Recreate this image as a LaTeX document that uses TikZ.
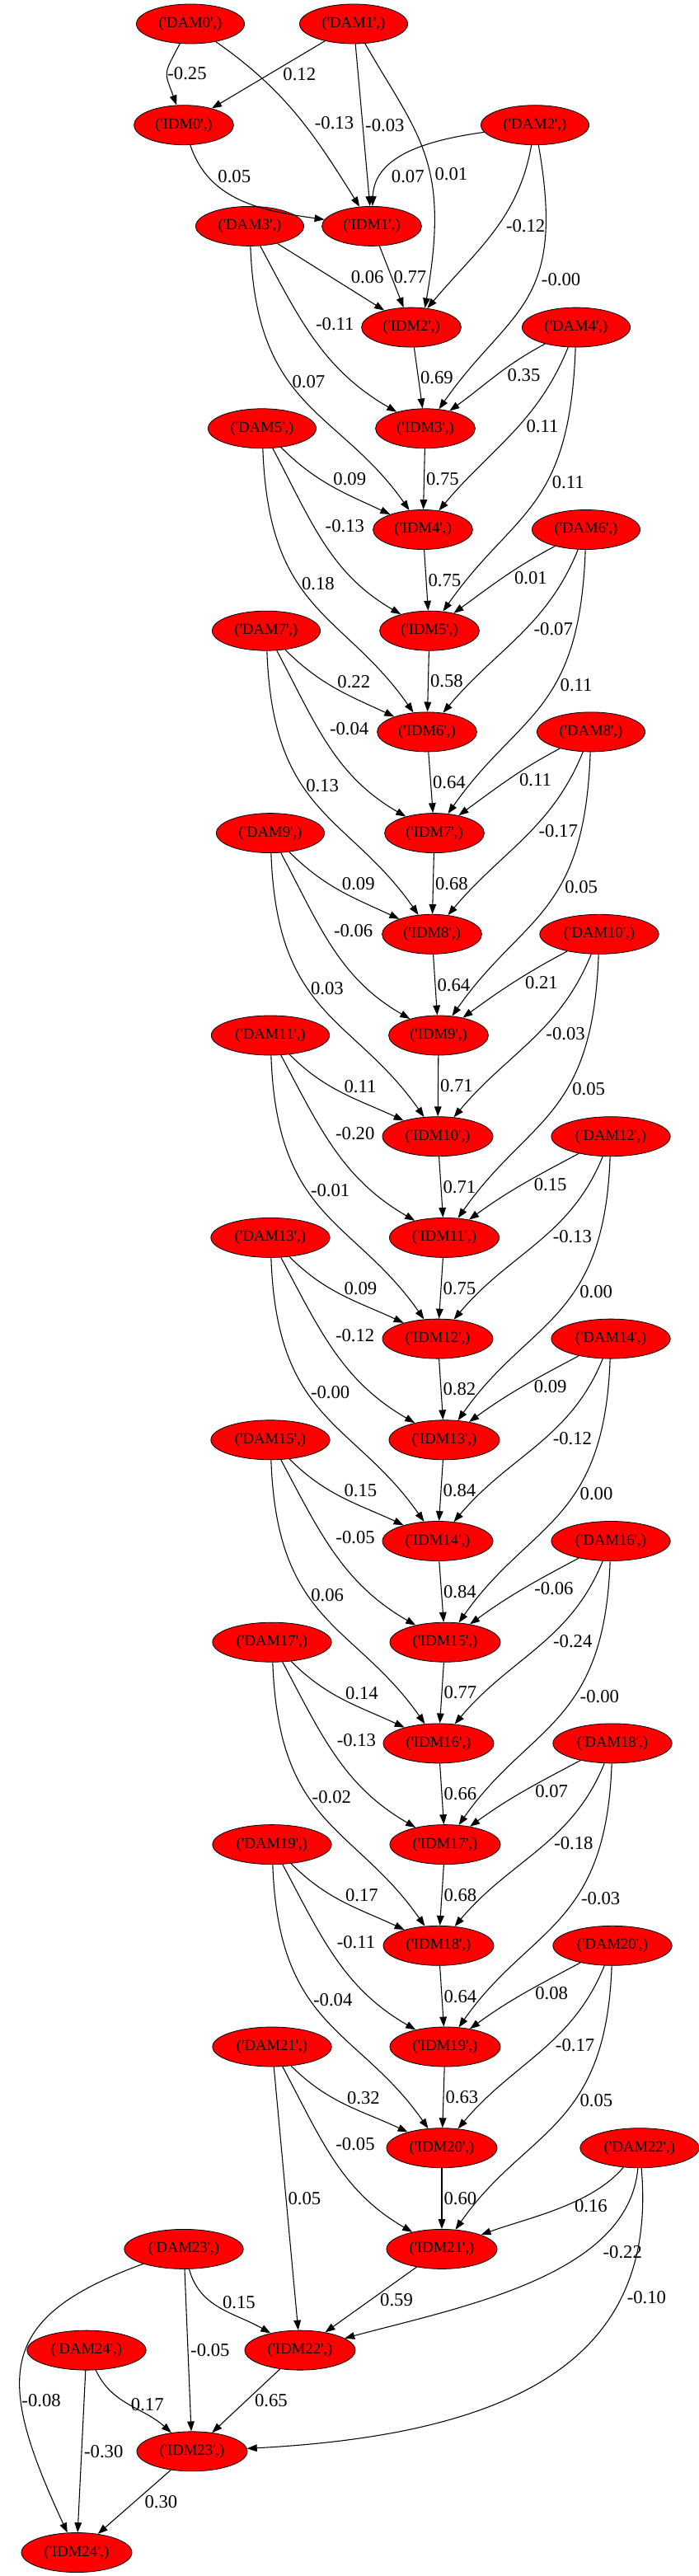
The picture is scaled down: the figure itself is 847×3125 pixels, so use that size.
\documentclass[tikz,border=0pt]{standalone}
\usepackage{fontspec}
\setmainfont{Liberation Serif}
\usetikzlibrary{shapes.geometric,arrows.meta}
\newcommand{\nm}[1]{(\textquotesingle#1\textquotesingle,)}
\begin{document}
\begin{tikzpicture}[x=0.75pt,y=0.75pt,font=\fontsize{14}{16}\selectfont,
				>={Triangle[length=9pt,width=6.5pt]},
				var node/.style = {ellipse,draw,fill=red,line width=0.6pt,inner xsep=6pt,inner ysep=1pt,minimum height=36pt},
				left near/.style = {out=-45,in=155},
				left mid/.style = {out=-62,in=150},
				left far/.style = {out=-88,in=125,out distance=150pt,in distance=112pt},
				right near/.style = {out=-152,in=36},
				right mid/.style = {out=-112,in=50},
				right far/.style = {out=-92,in=55,out distance=150pt,in distance=112pt},
				lab/.style = {anchor=west,inner sep=0pt,font=\fontsize{17}{19}\selectfont},
				chain lab/.style = {lab,pos=.5,xshift=1.5pt},
				nl lab/.style = {lab,anchor=south west,pos=.5,xshift=1pt},
				nr lab/.style = {lab,pos=.5,xshift=10pt},
				ml lab/.style = {lab,pos=.4,xshift=10pt},
				mr lab/.style = {lab,pos=.45,xshift=7pt},
				fl lab/.style = {lab,pos=.4,xshift=3pt},
				fr lab/.style = {lab,pos=.4,xshift=4.5pt}]
				
				\useasboundingbox (0,0) rectangle (847,-3125);
				
				\node[var node] (DAM0) at (231,-29) {\nm{DAM0}};
				\node[var node] (DAM1) at (429,-29) {\nm{DAM1}};
				\node[var node] (IDM0) at (223,-151.7) {\nm{IDM0}};
				\node[var node] (DAM2) at (649,-151.7) {\nm{DAM2}};
				\node[var node] (DAM3) at (303,-274.4) {\nm{DAM3}};
				\node[var node] (IDM1) at (451,-274.4) {\nm{IDM1}};
				\node[var node] (IDM2) at (499,-397.1) {\nm{IDM2}};
				\node[var node] (DAM4) at (699,-397.1) {\nm{DAM4}};
				\node[var node] (DAM5) at (318,-519.8) {\nm{DAM5}};
				\node[var node] (IDM3) at (516,-519.8) {\nm{IDM3}};
				\node[var node] (IDM4) at (513,-642.5) {\nm{IDM4}};
				\node[var node] (DAM6) at (711,-642.5) {\nm{DAM6}};
				\node[var node] (DAM7) at (323,-765.2) {\nm{DAM7}};
				\node[var node] (IDM5) at (521,-765.2) {\nm{IDM5}};
				\node[var node] (IDM6) at (518,-887.9) {\nm{IDM6}};
				\node[var node] (DAM8) at (717,-887.9) {\nm{DAM8}};
				\node[var node] (DAM9) at (328,-1010.6) {\nm{DAM9}};
				\node[var node] (IDM7) at (527,-1010.6) {\nm{IDM7}};
				\node[var node] (IDM8) at (524,-1133.3) {\nm{IDM8}};
				\node[var node] (DAM10) at (727,-1133.3) {\nm{DAM10}};
				\node[var node] (DAM11) at (328,-1256) {\nm{DAM11}};
				\node[var node] (IDM9) at (532,-1256) {\nm{IDM9}};
				\node[var node] (IDM10) at (531,-1378.7) {\nm{IDM10}};
				\node[var node] (DAM12) at (741,-1378.7) {\nm{DAM12}};
				\node[var node] (DAM13) at (328,-1501.4) {\nm{DAM13}};
				\node[var node] (IDM11) at (539,-1501.4) {\nm{IDM11}};
				\node[var node] (IDM12) at (531,-1624.1) {\nm{IDM12}};
				\node[var node] (DAM14) at (741,-1624.1) {\nm{DAM14}};
				\node[var node] (DAM15) at (328,-1746.8) {\nm{DAM15}};
				\node[var node] (IDM13) at (539,-1746.8) {\nm{IDM13}};
				\node[var node] (IDM14) at (531,-1869.5) {\nm{IDM14}};
				\node[var node] (DAM16) at (741,-1869.5) {\nm{DAM16}};
				\node[var node] (DAM17) at (330,-1992.2) {\nm{DAM17}};
				\node[var node] (IDM15) at (540,-1992.2) {\nm{IDM15}};
				\node[var node] (IDM16) at (532,-2114.9) {\nm{IDM16}};
				\node[var node] (DAM18) at (743,-2114.9) {\nm{DAM18}};
				\node[var node] (DAM19) at (330,-2237.6) {\nm{DAM19}};
				\node[var node] (IDM17) at (540,-2237.6) {\nm{IDM17}};
				\node[var node] (IDM18) at (532,-2360.3) {\nm{IDM18}};
				\node[var node] (DAM20) at (743,-2360.3) {\nm{DAM20}};
				\node[var node] (DAM21) at (330,-2483) {\nm{DAM21}};
				\node[var node] (IDM19) at (540,-2483) {\nm{IDM19}};
				\node[var node] (IDM20) at (536,-2605.7) {\nm{IDM20}};
				\node[var node] (DAM22) at (776,-2605.7) {\nm{DAM22}};
				\node[var node] (DAM23) at (223,-2728.4) {\nm{DAM23}};
				\node[var node] (IDM21) at (536,-2728.4) {\nm{IDM21}};
				\node[var node] (DAM24) at (105,-2851.1) {\nm{DAM24}};
				\node[var node] (IDM22) at (364,-2851.1) {\nm{IDM22}};
				\node[var node] (IDM23) at (233,-2973.8) {\nm{IDM23}};
				\node[var node] (IDM24) at (93,-3096.5) {\nm{IDM24}};
				
				% top rows
				\path[->,line width=0.8pt]
				(DAM0) edge [out=-118,in=110,looseness=1.5] node[lab,pos=.5] {-0.25} (IDM0)
				(DAM1) edge node[lab,pos=.5,xshift=13pt] {0.12} (IDM0)
				(DAM0) edge [out=-35,in=122] node[lab,pos=.55,xshift=10pt] {-0.13} (IDM1)
				(DAM1) edge node[lab,pos=.5,xshift=2pt] {-0.03} (IDM1)
				(DAM1) edge [out=-60,in=80,out distance=98pt,in distance=135pt] node[lab,pos=.58,xshift=4.5pt] {0.01} (IDM2.55)
				(IDM0) edge [out=-72,in=172] node[lab,pos=.22,xshift=9pt] {0.05} (IDM1)
				(DAM2) edge [out=-172,in=88] node[lab,pos=.78,xshift=9pt] {0.07} (IDM1)
				(DAM2) edge [right mid,out=-100] node[mr lab] {-0.12} (IDM2)
				(DAM2) edge [right far,out=-80] node[fr lab] {-0.00} (IDM3)
				(DAM3) edge node[lab,pos=.5,xshift=18pt] {0.06} (IDM2)
				(IDM1) edge node[chain lab] {0.77} (IDM2)
				(DAM3) edge [left mid] node[ml lab] {-0.11} (IDM3)
				(DAM3) edge [left far] node[fl lab] {0.07} (IDM4);
				
				% middle rows
				\path[->,line width=0.8pt]
				(IDM2) edge node[chain lab] {0.69} (IDM3)
				(DAM4) edge [right near] node[nr lab] {0.35} (IDM3)
				(DAM4) edge [right mid] node[mr lab] {0.11} (IDM4)
				(DAM4) edge [right far] node[fr lab] {0.11} (IDM5)
				(IDM3) edge node[chain lab] {0.75} (IDM4)
				(DAM5) edge [left near] node[nl lab] {0.09} (IDM4)
				(DAM5) edge [left mid] node[ml lab] {-0.13} (IDM5)
				(DAM5) edge [left far] node[fl lab] {0.18} (IDM6)
				(IDM4) edge node[chain lab] {0.75} (IDM5)
				(DAM6) edge [right near] node[nr lab] {0.01} (IDM5)
				(DAM6) edge [right mid] node[mr lab] {-0.07} (IDM6)
				(DAM6) edge [right far] node[fr lab] {0.11} (IDM7)
				(IDM5) edge node[chain lab] {0.58} (IDM6)
				(DAM7) edge [left near] node[nl lab] {0.22} (IDM6)
				(DAM7) edge [left mid] node[ml lab] {-0.04} (IDM7)
				(DAM7) edge [left far] node[fl lab] {0.13} (IDM8)
				(IDM6) edge node[chain lab] {0.64} (IDM7)
				(DAM8) edge [right near] node[nr lab] {0.11} (IDM7)
				(DAM8) edge [right mid] node[mr lab] {-0.17} (IDM8)
				(DAM8) edge [right far] node[fr lab] {0.05} (IDM9)
				(IDM7) edge node[chain lab] {0.68} (IDM8)
				(DAM9) edge [left near] node[nl lab] {0.09} (IDM8)
				(DAM9) edge [left mid] node[ml lab] {-0.06} (IDM9)
				(DAM9) edge [left far] node[fl lab] {0.03} (IDM10)
				(IDM8) edge node[chain lab] {0.64} (IDM9)
				(DAM10) edge [right near] node[nr lab] {0.21} (IDM9)
				(DAM10) edge [right mid] node[mr lab] {-0.03} (IDM10)
				(DAM10) edge [right far] node[fr lab] {0.05} (IDM11)
				(IDM9) edge node[chain lab] {0.71} (IDM10)
				(DAM11) edge [left near] node[nl lab] {0.11} (IDM10)
				(DAM11) edge [left mid] node[ml lab] {-0.20} (IDM11)
				(DAM11) edge [left far] node[fl lab] {-0.01} (IDM12)
				(IDM10) edge node[chain lab] {0.71} (IDM11)
				(DAM12) edge [right near] node[nr lab] {0.15} (IDM11)
				(DAM12) edge [right mid] node[mr lab] {-0.13} (IDM12)
				(DAM12) edge [right far] node[fr lab] {0.00} (IDM13)
				(IDM11) edge node[chain lab] {0.75} (IDM12)
				(DAM13) edge [left near] node[nl lab] {0.09} (IDM12)
				(DAM13) edge [left mid] node[ml lab] {-0.12} (IDM13)
				(DAM13) edge [left far] node[fl lab] {-0.00} (IDM14)
				(IDM12) edge node[chain lab] {0.82} (IDM13)
				(DAM14) edge [right near] node[nr lab] {0.09} (IDM13)
				(DAM14) edge [right mid] node[mr lab] {-0.12} (IDM14)
				(DAM14) edge [right far] node[fr lab] {0.00} (IDM15)
				(IDM13) edge node[chain lab] {0.84} (IDM14)
				(DAM15) edge [left near] node[nl lab] {0.15} (IDM14)
				(DAM15) edge [left mid] node[ml lab] {-0.05} (IDM15)
				(DAM15) edge [left far] node[fl lab] {0.06} (IDM16)
				(IDM14) edge node[chain lab] {0.84} (IDM15)
				(DAM16) edge [right near] node[nr lab] {-0.06} (IDM15)
				(DAM16) edge [right mid] node[mr lab] {-0.24} (IDM16)
				(DAM16) edge [right far] node[fr lab] {-0.00} (IDM17)
				(IDM15) edge node[chain lab] {0.77} (IDM16)
				(DAM17) edge [left near] node[nl lab] {0.14} (IDM16)
				(DAM17) edge [left mid] node[ml lab] {-0.13} (IDM17)
				(DAM17) edge [left far] node[fl lab] {-0.02} (IDM18)
				(IDM16) edge node[chain lab] {0.66} (IDM17)
				(DAM18) edge [right near] node[nr lab] {0.07} (IDM17)
				(DAM18) edge [right mid] node[mr lab] {-0.18} (IDM18)
				(DAM18) edge [right far] node[fr lab] {-0.03} (IDM19)
				(IDM17) edge node[chain lab] {0.68} (IDM18)
				(DAM19) edge [left near] node[nl lab] {0.17} (IDM18)
				(DAM19) edge [left mid] node[ml lab] {-0.11} (IDM19)
				(DAM19) edge [left far] node[fl lab] {-0.04} (IDM20)
				(IDM18) edge node[chain lab] {0.64} (IDM19)
				(DAM20) edge [right near] node[nr lab] {0.08} (IDM19)
				(DAM20) edge [right mid] node[mr lab] {-0.17} (IDM20)
				(DAM20) edge [right far] node[fr lab] {0.05} (IDM21)
				(IDM19) edge node[chain lab] {0.63} (IDM20)
				(DAM21) edge [left near] node[nl lab] {0.32} (IDM20)
				(DAM21) edge [left mid] node[ml lab] {-0.05} (IDM21);
				
				% bottom rows
				\path[->,line width=0.8pt]
				(DAM21) edge node[lab,pos=.5,xshift=1.5pt] {0.05} (IDM22)
				(IDM20) edge node[chain lab] {0.60} (IDM21)
				(DAM22) edge [out=-130,in=20,looseness=.8] node[lab,pos=.45,xshift=8pt] {0.16} (IDM21)
				(DAM22) edge [out=-95,in=15,out distance=98pt,in distance=112pt] node[lab,pos=.33,xshift=16pt] {-0.22} (IDM22)
				(DAM22) edge [out=-85,in=3,out distance=165pt,in distance=260pt] node[lab,pos=.28,xshift=5pt] {-0.10} (IDM23)
				(IDM21) edge node[lab,pos=.5,xshift=8pt] {0.59} (IDM22)
				(DAM23) edge [out=-75,in=150] node[lab,pos=.4,xshift=9pt] {0.15} (IDM22)
				(DAM23) edge node[lab,pos=.5,xshift=2pt] {-0.05} (IDM23)
				(DAM23) edge [out=-160,in=115,out distance=142pt,in distance=157pt] node[lab,pos=.65] {-0.08} (IDM24)
				(IDM22) edge node[lab,pos=.5,xshift=7.5pt] {0.65} (IDM23)
				(DAM24) edge [out=-65,in=138] node[lab,pos=.5,xshift=1.5pt] {0.17} (IDM23)
				(DAM24) edge node[lab,pos=.5,xshift=2pt] {-0.30} (IDM24)
				(IDM23) edge node[lab,pos=.5,xshift=9pt] {0.30} (IDM24);
				\end{tikzpicture}
\end{document}
